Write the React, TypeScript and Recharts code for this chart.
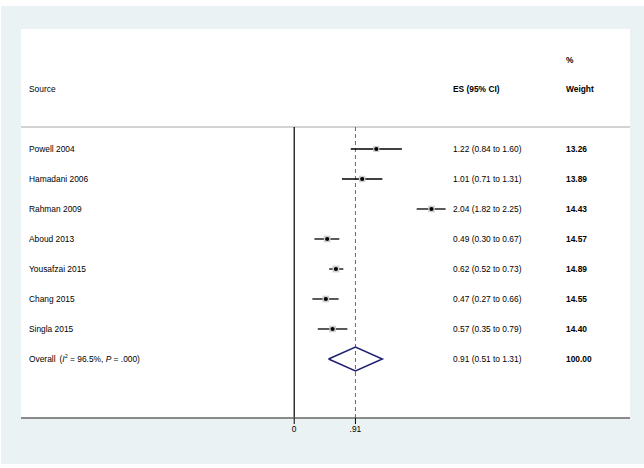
import { ComposedChart, Scatter, XAxis, YAxis, ReferenceLine, ErrorBar } from 'recharts';

const SOURCES = ['Powell 2004', 'Hamadani 2006', 'Rahman 2009', 'Aboud 2013', 'Yousafzai 2015', 'Chang 2015', 'Singla 2015'];
const ES = [1.22, 1.01, 2.04, 0.49, 0.62, 0.47, 0.57];
const LO = [0.84, 0.71, 1.82, 0.3, 0.52, 0.27, 0.35];
const HI = [1.6, 1.31, 2.25, 0.67, 0.73, 0.66, 0.79];
const WEIGHTS = [13.26, 13.89, 14.43, 14.57, 14.89, 14.55, 14.4];
const OVERALL_ES = 0.91;
const OVERALL_LO = 0.51;
const OVERALL_HI = 1.31;
const OVERALL_WEIGHT = 100.0;
const X_TICKS = [0, 0.91];

const X_DOMAIN = [-4.06, 4.99];
const Y_DOMAIN = [0.267, 9.967];
const OVERALL_ROW = SOURCES.length + 1;

const FONT = '"Liberation Sans", Arial, Helvetica, sans-serif';
const FS = 8.4;

const studies = SOURCES.map((s, i) => ({
  x: ES[i],
  y: i + 1,
  err: [ES[i] - LO[i], HI[i] - ES[i]],
  weight: WEIGHTS[i],
}));

const diamond = [
  { x: OVERALL_LO, y: OVERALL_ROW },
  { x: OVERALL_ES, y: OVERALL_ROW - 0.4 },
  { x: OVERALL_HI, y: OVERALL_ROW },
  { x: OVERALL_ES, y: OVERALL_ROW + 0.4 },
  { x: OVERALL_LO, y: OVERALL_ROW },
];

const ciText = (es: number, lo: number, hi: number) => `${es.toFixed(2)} (${lo.toFixed(2)} to ${hi.toFixed(2)})`;

function RowTick({ y, payload }: { y?: number; payload?: { value: number } }) {
  const row = payload!.value;
  const i = row - 1;
  const isOverall = row === OVERALL_ROW;
  const common = { fontFamily: FONT, fontSize: FS, fill: '#000', dominantBaseline: 'central' as const };
  return (
    <g>
      {isOverall ? (
        <text x={29} y={y} {...common}>
          Overall
          <tspan dx={4}>(</tspan>
          <tspan fontStyle="italic">I</tspan>
          <tspan fontSize={5.5} dy={-3}>2</tspan>
          <tspan dy={3}> = 96.5%, </tspan>
          <tspan fontStyle="italic">P</tspan>
          <tspan> = .000)</tspan>
        </text>
      ) : (
        <text x={29} y={y} {...common}>{SOURCES[i]}</text>
      )}
      <text x={453} y={y} {...common}>
        {isOverall ? ciText(OVERALL_ES, OVERALL_LO, OVERALL_HI) : ciText(ES[i], LO[i], HI[i])}
      </text>
      <text x={566} y={y} {...common} fontWeight="bold">
        {isOverall ? OVERALL_WEIGHT.toFixed(2) : WEIGHTS[i].toFixed(2)}
      </text>
    </g>
  );
}

function StudyMark({ cx, cy, payload }: { cx?: number; cy?: number; payload?: { weight: number } }) {
  const s = (payload?.weight ?? 14) * 0.46;
  return (
    <g>
      <rect x={cx! - s / 2} y={cy! - s / 2} width={s} height={s} fill="#cfcfcf" />
      <circle cx={cx} cy={cy} r={2.1} fill="#000" />
    </g>
  );
}

const header = (text: string, left: number, top: number, bold = false) => (
  <div
    style={{
      position: 'absolute',
      left,
      top: top - 5,
      lineHeight: '10px',
      fontFamily: FONT,
      fontSize: FS,
      fontWeight: bold ? 'bold' : 'normal',
      whiteSpace: 'nowrap',
    }}
  >
    {text}
  </div>
);

export default function App() {
  return (
    <div style={{ position: 'absolute', left: 0, top: 0, width: 644, height: 468, background: '#fff' }}>
      <div style={{ position: 'absolute', left: 1, top: 6, width: 643, height: 458, background: '#eaf2f3' }} />
      <div style={{ position: 'absolute', left: 21, top: 29, width: 609, height: 389, background: '#fff' }} />
      {header('%', 566, 60, true)}
      {header('Source', 29, 89)}
      {header('ES (95% CI)', 453, 89, true)}
      {header('Weight', 566, 89, true)}
      <div style={{ position: 'absolute', left: 0, top: 0 }}>
        <ComposedChart width={644} height={468} margin={{ top: 127, right: 14, left: 20, bottom: 30 }}>
          <XAxis
            dataKey="x"
            type="number"
            domain={X_DOMAIN}
            ticks={X_TICKS}
            allowDataOverflow
            height={20}
            axisLine={{ stroke: '#666', strokeWidth: 1.6 }}
            tickLine={{ stroke: '#000', strokeWidth: 1 }}
            tickSize={6}
            tick={{ fontFamily: FONT, fontSize: FS, fill: '#000' }}
            tickFormatter={(v: number) => (v === 0 ? '0' : String(v).replace(/^0/, ''))}
          />
          <YAxis
            dataKey="y"
            type="number"
            domain={Y_DOMAIN}
            reversed
            allowDataOverflow
            ticks={[...SOURCES.map((_, i) => i + 1), OVERALL_ROW]}
            width={1}
            axisLine={false}
            tickLine={false}
            tick={<RowTick />}
            interval={0}
          />
          <ReferenceLine y={Y_DOMAIN[0]} stroke="#a8a8a8" strokeWidth={1} />
          <ReferenceLine x={0} stroke="#000" strokeWidth={1.2} />
          <ReferenceLine x={OVERALL_ES} stroke="#b04a5e" strokeWidth={1} strokeDasharray="4 3" />
          <Scatter data={studies} shape={<StudyMark />} isAnimationActive={false}>
            <ErrorBar dataKey="err" direction="x" width={0} stroke="#000" strokeWidth={1.3} isAnimationActive={false} />
          </Scatter>
          <Scatter
            data={diamond}
            line={{ stroke: '#1f1f70', strokeWidth: 1.5 }}
            shape={() => <g />}
            isAnimationActive={false}
          />
        </ComposedChart>
      </div>
    </div>
  );
}
